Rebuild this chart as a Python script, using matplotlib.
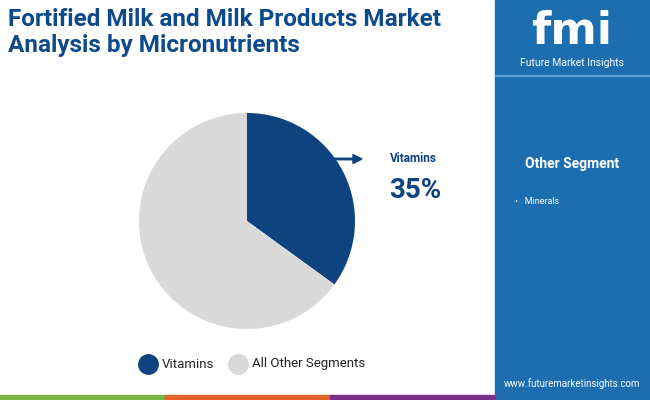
import matplotlib.pyplot as plt
from matplotlib.patches import Rectangle, FancyArrow

categories = ["Vitamins", "All Other Segments"]
shares = [35, 65]
colors = ["#0d437e", "#d9d9d9"]
other_segments = ["Minerals"]

W, H = 650, 400
fig = plt.figure(figsize=(6.5, 4.0), dpi=100)
bg = fig.add_axes([0, 0, 1, 1])
bg.set_xlim(0, W); bg.set_ylim(H, 0); bg.axis("off")

bg.add_patch(Rectangle((495, 0), 155, 400, color="#1c6eb0", zorder=0))
bg.add_patch(Rectangle((495, 75), 155, 1, color="#5b9bd0", zorder=1))
for x0, c in [(0, "#7ab648"), (165, "#e8622c"), (330, "#7b2f8d")]:
    bg.add_patch(Rectangle((x0, 395), 165, 5, color=c, zorder=1))

bg.text(8, 8, "Fortified Milk and Milk Products Market\nAnalysis by Micronutrients",
        fontsize=17.5, fontweight="bold", color="#0d4a8a", va="top", family="Roboto", linespacing=1.15)
bg.text(572, 32, "fmi", fontsize=32, fontweight="bold", color="white", ha="center", va="center", family="DejaVu Sans")
bg.text(572, 63, "Future Market Insights", fontsize=7.5, color="white", ha="center", va="center", family="Roboto")
bg.text(572, 164, "Other Segment", fontsize=10, fontweight="bold", color="white", ha="center", va="center", family="Roboto")
for i, s in enumerate(other_segments):
    bg.text(515, 202 + i * 18, "•   " + s, fontsize=6.5, color="white", va="center", family="Roboto")
bg.text(572, 384, "www.futuremarketinsights.com", fontsize=7, color="white", ha="center", va="center", family="Roboto")

bg.add_patch(FancyArrow(334, 159, 28, 0, width=1.5, head_width=9, head_length=9, color="#0d437e", length_includes_head=True))
bg.text(390, 158, categories[0], fontsize=8.5, fontweight="bold", color="#0d437e", va="center", family="Roboto")
bg.text(389, 191, f"{shares[0]}%", fontsize=20, fontweight="bold", color="#0d437e", va="center", family="Roboto")

for i, (c, col) in enumerate(zip(categories, colors)):
    x = [148, 238][i]
    bg.plot(x, 364, "o", ms=14, color=col)
    bg.text(x + 14, 364, c, fontsize=9.5, color="#222222", va="center", family="Roboto")

ax = fig.add_axes([(247 - 108) / W, 1 - (221 + 108) / H, 216 / W, 216 / H])
ax.pie(shares, colors=colors, startangle=90, counterclock=False,
       wedgeprops=dict(linewidth=0))
ax.set_xlim(-1, 1); ax.set_ylim(-1, 1)
ax.set_aspect("equal")
fig.savefig("out.png", dpi=100)
